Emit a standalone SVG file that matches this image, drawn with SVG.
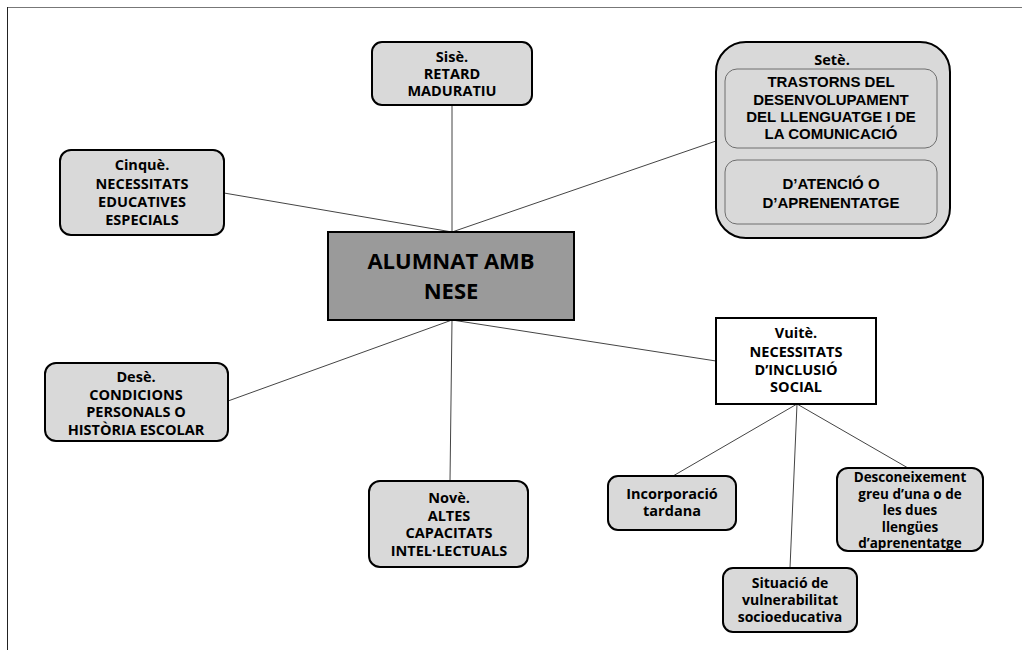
<svg xmlns="http://www.w3.org/2000/svg" width="1022" height="650" viewBox="0 0 1022 650">
<style>
.box{fill:#d9d9d9;stroke:#000;stroke-width:2}
.inner{fill:#d9d9d9;stroke:#6e6e6e;stroke-width:1}
.t{font-family:"Open Sans","Liberation Sans",sans-serif;font-weight:bold;font-size:14.5px;fill:#000;text-anchor:middle}
.s{font-size:14px}
.d{font-size:13.5px}
.big{font-size:22px}
.a{font-family:"Liberation Sans",Arial,sans-serif;font-weight:bold;font-size:15px;fill:#000;text-anchor:middle}
.c{stroke:#444;stroke-width:1;fill:none}
</style>
<rect width="1022" height="650" fill="#fff"/>
<g id="frame">
<line x1="7" y1="7.5" x2="1022" y2="7.5" stroke="#777" stroke-width="1"/>
<line x1="7.5" y1="7" x2="7.5" y2="650" stroke="#222" stroke-width="1"/>
</g>
<g id="connectors" class="c">
<line x1="452" y1="105" x2="452" y2="232"/>
<line x1="224" y1="193" x2="452" y2="232"/>
<line x1="716" y1="141" x2="452" y2="232"/>
<line x1="452" y1="320" x2="450" y2="481"/>
<line x1="452" y1="320" x2="228" y2="401"/>
<line x1="452" y1="320" x2="716" y2="361"/>
<line x1="797" y1="404" x2="673" y2="476"/>
<line x1="797" y1="404" x2="790" y2="568"/>
<line x1="797" y1="404" x2="908" y2="468"/>
</g>
<g id="center">
<rect x="328" y="232" width="246" height="88" fill="#9a9a9a" stroke="#000" stroke-width="2"/>
<text class="t big" x="451" y="269">ALUMNAT AMB</text>
<text class="t big" x="451" y="299">NESE</text>
</g>
<g id="sise">
<rect class="box" x="372" y="42" width="160" height="63" rx="10"/>
<text class="t" x="452" y="62">Sisè.</text>
<text class="t" x="452" y="79">RETARD</text>
<text class="t" x="452" y="96">MADURATIU</text>
</g>
<g id="cinque">
<rect class="box" x="60" y="150" width="164" height="85" rx="11"/>
<text class="t" x="142" y="170">Cinquè.</text>
<text class="t" x="142" y="189">NECESSITATS</text>
<text class="t" x="142" y="207">EDUCATIVES</text>
<text class="t" x="142" y="225">ESPECIALS</text>
</g>
<g id="sete">
<rect class="box" x="716" y="42" width="234" height="196" rx="30"/>
<text class="t" x="832" y="65">Setè.</text>
<rect class="inner" x="725" y="69" width="212" height="79" rx="12"/>
<text class="a" x="831" y="87">TRASTORNS DEL</text>
<text class="a" x="831" y="105">DESENVOLUPAMENT</text>
<text class="a" x="831" y="122">DEL LLENGUATGE I DE</text>
<text class="a" x="831" y="139">LA COMUNICACIÓ</text>
<rect class="inner" x="725" y="160" width="212" height="64" rx="12"/>
<text class="a" x="831" y="189">D’ATENCIÓ O</text>
<text class="a" x="831" y="208">D’APRENENTATGE</text>
</g>
<g id="vuite">
<rect x="716" y="318" width="160" height="86" fill="#fff" stroke="#000" stroke-width="2"/>
<text class="t" x="796" y="338">Vuitè.</text>
<text class="t" x="796" y="357">NECESSITATS</text>
<text class="t" x="796" y="375">D’INCLUSIÓ</text>
<text class="t" x="796" y="392">SOCIAL</text>
</g>
<g id="dese">
<rect class="box" x="45" y="363" width="183" height="78" rx="11"/>
<text class="t" x="136" y="382">Desè.</text>
<text class="t" x="136" y="400">CONDICIONS</text>
<text class="t" x="136" y="417">PERSONALS O</text>
<text class="t" x="136" y="435">HISTÒRIA ESCOLAR</text>
</g>
<g id="nove">
<rect class="box" x="369" y="481" width="159" height="86" rx="11"/>
<text class="t" x="449" y="503">Novè.</text>
<text class="t" x="449" y="521">ALTES</text>
<text class="t" x="449" y="538">CAPACITATS</text>
<text class="t" x="449" y="556">INTEL·LECTUALS</text>
</g>
<g id="incorporacio">
<rect class="box" x="608" y="476" width="128" height="54" rx="10"/>
<text class="t" x="672" y="499">Incorporació</text>
<text class="t" x="672" y="516">tardana</text>
</g>
<g id="situacio">
<rect class="box" x="723" y="568" width="134" height="64" rx="10"/>
<text class="t s" x="790" y="588">Situació de</text>
<text class="t s" x="790" y="605">vulnerabilitat</text>
<text class="t s" x="790" y="622">socioeducativa</text>
</g>
<g id="desconeixement">
<rect class="box" x="837" y="468" width="146" height="83" rx="11"/>
<text class="t d" x="910" y="482">Desconeixement</text>
<text class="t d" x="910" y="498.5">greu d’una o de</text>
<text class="t d" x="910" y="515">les dues</text>
<text class="t d" x="910" y="531.5">llengües</text>
<text class="t d" x="910" y="548">d’aprenentatge</text>
</g>
</svg>
